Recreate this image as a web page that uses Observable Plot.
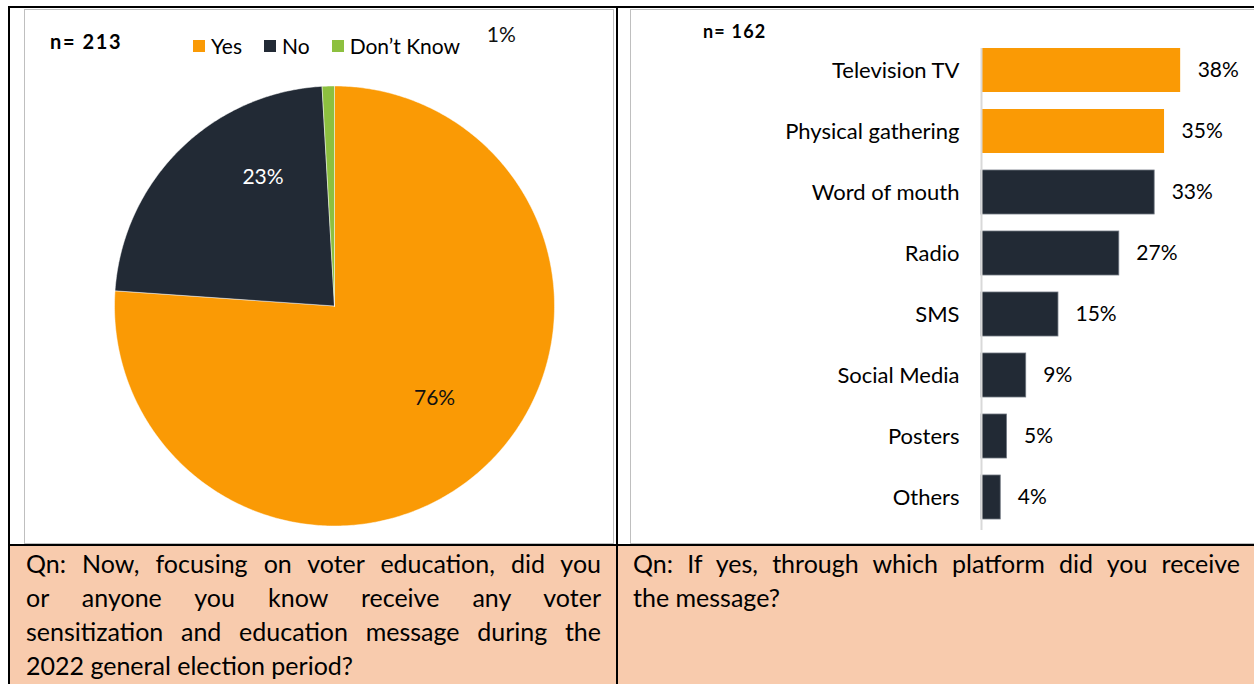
<!DOCTYPE html>
<html><head><meta charset="utf-8">
<script src="https://cdn.jsdelivr.net/npm/d3@7"></script>
<script src="https://cdn.jsdelivr.net/npm/@observablehq/plot@0.6"></script>
<style>
body{margin:0;background:#fff;font-family:Lato,"Open Sans",sans-serif;width:1254px;height:684px;overflow:hidden;position:relative;color:#000}
.abs{position:absolute}
.blk{position:absolute;background:#000}
.frame{position:absolute;border:1px solid #bfbfbf;box-sizing:border-box;background:#fff}
.peach{position:absolute;background:#F8CBAD}
.qline{text-align:justify;text-align-last:justify;height:34px;line-height:34px;transform-origin:0 50%;white-space:normal}
.qline.last{text-align-last:left}
.nlab{position:absolute;font-weight:bold;line-height:22px}
.leg{position:absolute;display:flex;align-items:center;font-size:21px;line-height:24px}
.leg span.sw{display:inline-block;width:12px;height:12px;margin-right:6px}
.leg .it{display:flex;align-items:center;margin-right:22px}
.meas{position:absolute;visibility:hidden;white-space:nowrap}
</style></head><body>
<script>
// ---------- data ----------
const pieCategories = ["Yes", "No", "Don’t Know"];
const pieValues = [76.1, 23.0, 0.9];
const pieLabels = ["76%", "23%", "1%"];
const pieN = "n= 213";

const barCategories = ["Television TV", "Physical gathering", "Word of mouth", "Radio", "SMS", "Social Media", "Posters", "Others"];
const barValues = [38.3, 35.2, 33.3, 26.5, 14.8, 8.6, 4.9, 3.7];
const barLabels = ["38%", "35%", "33%", "27%", "15%", "9%", "5%", "4%"];
const barGroup = ["top", "top", "rest", "rest", "rest", "rest", "rest", "rest"];
const barN = "n= 162";

const question1Lines = ["Qn: Now, focusing on voter education, did you", "or anyone you know receive any voter", "sensitization and education message during the", "2022 general election period?"];
const question2Lines = ["Qn: If yes, through which platform did you receive", "the message?"];

// ---------- styles ----------
const ORANGE = "#FA9A05", DARK = "#222A35", GREEN = "#8DC03F";
const pieColors = [ORANGE, DARK, GREEN];
const FONT = "Lato, 'Open Sans', sans-serif";

// ---------- layout ----------
const body = document.body;
function div(cls, style, html) { const d = document.createElement("div"); d.className = cls; d.style.cssText = style; if (html != null) d.innerHTML = html; body.appendChild(d); return d; }

div("frame", "left:24px;top:9px;width:590px;height:535px");
div("frame", "left:630px;top:9px;width:640px;height:535px");
div("peach", "left:10px;top:546px;width:606px;height:140px");
div("peach", "left:618px;top:546px;width:640px;height:140px");
div("blk", "left:8px;top:6px;width:2px;height:680px");
div("blk", "left:8px;top:6px;width:1250px;height:2px");
div("blk", "left:616px;top:6px;width:2px;height:680px");
div("blk", "left:8px;top:544px;width:1250px;height:2px");

// ---------- pie ----------
const pieData = pieCategories.map((c, i) => ({cat: c, value: pieValues[i], label: pieLabels[i]}));
const arcs = d3.pie().sort(null).value(d => d.value)(pieData);
const polyPts = [];
arcs.forEach(a => {
  const n = Math.max(2, Math.ceil((a.endAngle - a.startAngle) / 0.01));
  polyPts.push({cat: a.data.cat, x: 0, y: 0});
  for (let i = 0; i <= n; i++) {
    const t = a.startAngle + (a.endAngle - a.startAngle) * i / n;
    polyPts.push({cat: a.data.cat, x: Math.sin(t), y: -Math.cos(t)});
  }
  polyPts.push({cat: a.data.cat, x: 0, y: 0});
});
const mid = a => (a.startAngle + a.endAngle) / 2;
const labelAt = (a, r) => ({x: r * Math.sin(mid(a)), y: -r * Math.cos(mid(a)), label: a.data.label});

const pieSvg = Plot.plot({
  width: 588, height: 534,
  margin: 0,
  x: {domain: [-1, 1], range: [90, 530], axis: null},
  y: {domain: [-1, 1], range: [76.5, 516.5], axis: null},
  color: {domain: pieCategories, range: pieColors},
  style: {background: "transparent", fontFamily: FONT},
  marks: [
    Plot.line(polyPts, {x: "x", y: "y", z: "cat", fill: "cat", stroke: "#ffffff", strokeWidth: 0.8, strokeOpacity: 0.6, curve: "linear"}),
    Plot.text([labelAt(arcs[0], 0.62)], {x: "x", y: "y", text: "label", fill: "#111", fontSize: 21, dx: 7, dy: -7}),
    Plot.text([labelAt(arcs[1], 0.65)], {x: "x", y: "y", text: "label", fill: "#fff", fontSize: 21, dx: 29, dy: -27}),
    Plot.text([labelAt(arcs[2], 1.0)], {x: "x", y: "y", text: "label", fill: "#111", fontSize: 21, dx: 173, dy: -51})
  ]
});
pieSvg.style.position = "absolute"; pieSvg.style.left = "24px"; pieSvg.style.top = "9px";
body.appendChild(pieSvg);

div("nlab", "left:50px;top:30px;font-size:20px;letter-spacing:1.6px", pieN);
const leg = div("leg", "left:193px;top:34px", "");
pieCategories.forEach((c, i) => {
  const it = document.createElement("div"); it.className = "it";
  it.innerHTML = `<span class="sw" style="background:${pieColors[i]}"></span><span>${c}</span>`;
  leg.appendChild(it);
});

// ---------- bars ----------
const barData = barCategories.map((c, i) => ({cat: c, value: barValues[i], label: barLabels[i], group: barGroup[i]}));
const barSvg = Plot.plot({
  width: 624, height: 534,
  marginLeft: 351, marginRight: 13, marginTop: 39, marginBottom: 13,
  x: {domain: [0, 50], axis: null},
  y: {domain: barCategories, range: [29.4, 519.8], paddingInner: 0.28, paddingOuter: 0.14, label: null},
  color: {domain: ["top", "rest"], range: [ORANGE, DARK]},
  style: {background: "transparent", fontFamily: FONT, color: "#000"},
  marks: [
    Plot.barX(barData, {x: "value", y: "cat", fill: "group", stroke: d => d.group === "top" ? "none" : "#6f7680", strokeWidth: 0.8}),
    Plot.ruleX([0], {stroke: "#d9d9d9", strokeWidth: 2}),
    Plot.axisY({tickSize: 0, tickPadding: 22, fontSize: 22, label: null}),
    Plot.text(barData, {x: "value", y: "cat", text: "label", dx: 17, textAnchor: "start", fontSize: 21, fill: "#000"})
  ]
});
barSvg.style.position = "absolute"; barSvg.style.left = "630px"; barSvg.style.top = "9px";
body.appendChild(barSvg);
div("nlab", "left:703px;top:20px;font-size:18px;letter-spacing:1.2px", barN);

// ---------- questions ----------
const QFS = 25;
const meas = div("meas", `font-size:${QFS}px`, "");
function natural(t) { meas.textContent = t; return meas.getBoundingClientRect().width; }
const longest = Math.max(...question1Lines.slice(0, -1).map(natural));
const scale = Math.min(1, 575 / longest);
function questionBlock(lines, left, width) {
  const box = div("abs", `left:${left}px;top:546px;width:${width}px;font-size:${QFS}px`, "");
  lines.forEach((t, i) => {
    const l = document.createElement("div");
    l.className = "qline" + (i === lines.length - 1 ? " last" : "");
    l.style.width = (width / scale) + "px";
    l.style.transform = `scaleX(${scale})`;
    l.textContent = t;
    box.appendChild(l);
  });
  return box;
}
questionBlock(question1Lines, 26, 575);
questionBlock(question2Lines, 633, 607);
</script>
</body></html>
